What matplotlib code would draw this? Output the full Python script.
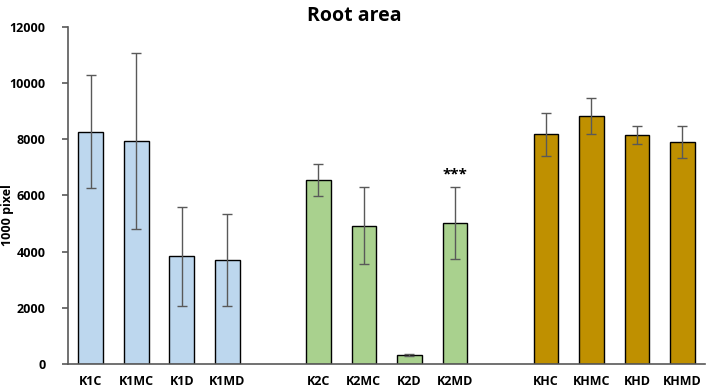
import numpy as np
import matplotlib
matplotlib.use('Agg')
import matplotlib.pyplot as plt

plt.rcParams['font.family'] = ['Open Sans', 'DejaVu Sans']
plt.rcParams['font.weight'] = 'bold'

# data
labels = ['K1C', 'K1MC', 'K1D', 'K1MD', '',
          'K2C', 'K2MC', 'K2D', 'K2MD', '',
          'KHC', 'KHMC', 'KHD', 'KHMD']
means = [8260, 7940, 3840, 3710, np.nan,
         6550, 4930, 340, 5030, np.nan,
         8170, 8815, 8140, 7900]
errs = [2010, 3120, 1765, 1630, np.nan,
        565, 1360, 35, 1270, np.nan,
        750, 640, 325, 560]
colors = ['#BDD7EE'] * 5 + ['#A9D18E'] * 5 + ['#BF9000'] * 4
star_idx = 8

fig = plt.figure(figsize=(7.08, 3.89), dpi=100)
ax = fig.add_axes([0.096, 0.0635, 0.9, 0.868])

x = np.arange(len(labels))
ax.bar(x, means, width=0.54, color=colors, edgecolor='black', linewidth=1.0,
       yerr=errs, ecolor='#595959', capsize=3.5,
       error_kw={'elinewidth': 1.0, 'capthick': 1.0})

ax.text(x[star_idx], means[star_idx] + errs[star_idx] + 180, '***',
        ha='center', va='bottom', fontsize=11, fontweight='bold')

ax.set_xlim(-0.5, 13.5)
ax.set_ylim(0, 12000)
ax.set_yticks(np.arange(0, 12001, 2000))
ax.set_xticks([i for i in x if labels[i]])
ax.set_xticklabels([l for l in labels if l])
ax.tick_params(axis='x', length=0, pad=8, labelsize=9)
ax.tick_params(axis='y', length=4, width=1.2, color='#595959', labelsize=9, pad=12)
for lab in ax.get_yticklabels() + ax.get_xticklabels():
    lab.set_fontweight('bold')

for s in ['top', 'right']:
    ax.spines[s].set_visible(False)
ax.spines['left'].set_color('#595959')
ax.spines['bottom'].set_color('#595959')
ax.spines['left'].set_linewidth(1.2)
ax.spines['bottom'].set_linewidth(1.2)

fig.text(8 / 708, 1 - 215 / 389, '1000 pixel', rotation=90, ha='center', va='center',
         fontsize=9, fontweight='bold')
fig.text(0.5, 0.985, 'Root area', ha='center', va='top', fontsize=14, fontweight='bold')

fig.savefig('out.png', dpi=100)
